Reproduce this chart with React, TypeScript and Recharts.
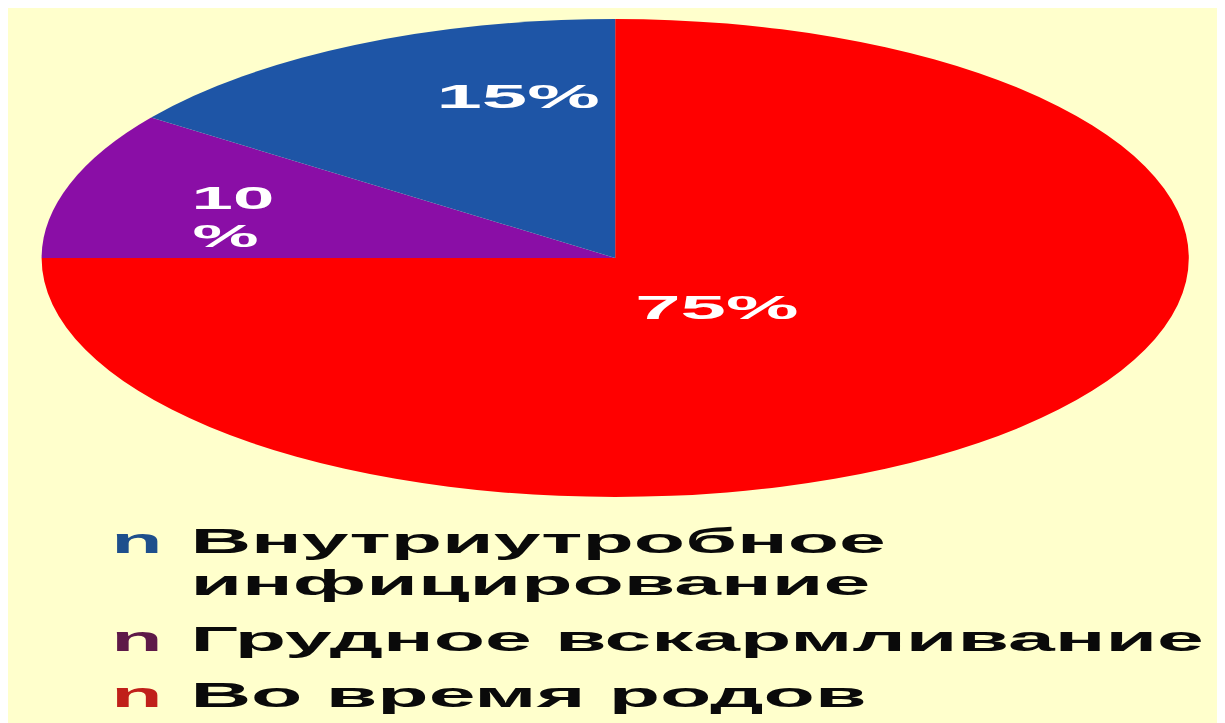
import { Legend, Pie, PieChart } from "recharts";

// slices in drawing order, clockwise from 12 o'clock
const sliceNames = ["Во время родов", "Грудное вскармливание", "Внутриутробное инфицирование"];
const sliceValues = [75, 10, 15];
const legendNames = ["Внутриутробное инфицирование", "Грудное вскармливание", "Во время родов"];

const FILLS: Record<string, string> = {
  "Во время родов": "#FF0000",
  "Грудное вскармливание": "#8A0EA6",
  "Внутриутробное инфицирование": "#1E55A6",
};
const MARKERS: Record<string, string> = {
  "Во время родов": "#C0201A",
  "Грудное вскармливание": "#5E1A48",
  "Внутриутробное инфицирование": "#1E4F8C",
};
// label placement: fraction of radius, angle shift in degrees, split number and %
const LABEL_POS: Record<string, { r: number; shift: number; split?: boolean; size: number }> = {
  "Во время родов": { r: 0.27, shift: -4, size: 34 },
  "Грудное вскармливание": { r: 0.69, shift: 3, split: true, size: 31 },
  "Внутриутробное инфицирование": { r: 0.7, shift: -13, size: 34 },
};

const data = sliceNames.map((name, i) => ({ name, value: sliceValues[i], fill: FILLS[name] }));

const FONT = '"Liberation Sans", Arial, sans-serif';
const SCALE_X = 2.4;
const W = 1217;
const H = 715;
const INNER_W = Math.round(W / SCALE_X);
const RAD = Math.PI / 180;

const renderLabel = (props: any) => {
  const { cx, cy, midAngle, outerRadius, value, name } = props;
  const pos = LABEL_POS[name];
  const a = (midAngle + pos.shift) * RAD;
  const x = cx + outerRadius * pos.r * Math.cos(-a);
  const y = cy + outerRadius * pos.r * Math.sin(-a);
  const common = {
    fill: "#FFFFFF",
    fontFamily: FONT,
    fontWeight: 700,
    fontSize: pos.size,
    textAnchor: "middle" as const,
  };
  if (pos.split) {
    return (
      <text x={x} y={y} {...common}>
        <tspan x={x} dy={-6}>{value}</tspan>
        <tspan x={x - 3} dy={38}>%</tspan>
      </text>
    );
  }
  return (
    <text x={x} y={y} dy={12} {...common}>
      {`${value}%`}
    </text>
  );
};

const renderLegend = () => (
  <div style={{ fontFamily: FONT, fontWeight: 700, fontSize: 35, lineHeight: "42px", color: "#0A0A0A" }}>
    {legendNames.map((name, i) => (
      <div key={name} style={{ display: "flex", marginTop: i ? 14 : 0 }}>
        <span style={{ color: MARKERS[name], width: 33, flex: "none" }}>n</span>
        <span style={{ width: 460 }}>{name}</span>
      </div>
    ))}
  </div>
);

export default function App() {
  return (
    <div style={{ width: W, height: H, background: "#FFFFCC", overflow: "hidden", position: "relative" }}>
      <div style={{ width: INNER_W, height: H, transform: `scaleX(${SCALE_X})`, transformOrigin: "0 0" }}>
        <PieChart width={INNER_W} height={H} margin={{ top: 0, right: 0, bottom: 0, left: 0 }}>
          <Pie
            data={data}
            dataKey="value"
            nameKey="name"
            cx={253}
            cy={250}
            outerRadius={239}
            startAngle={90}
            endAngle={-270}
            stroke="none"
            label={renderLabel}
            labelLine={false}
            isAnimationActive={false}
          />
          <Legend
            content={renderLegend}
            wrapperStyle={{ position: "absolute", left: 43, top: 512, width: 520, bottom: "auto" }}
          />
        </PieChart>
      </div>
    </div>
  );
}
